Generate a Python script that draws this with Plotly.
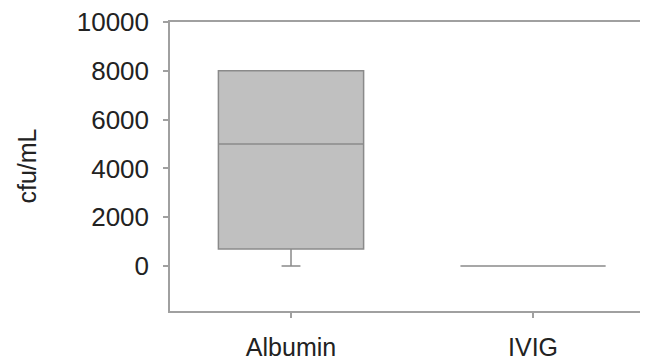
import plotly.graph_objects as go

categories = ["Albumin", "IVIG"]
q1 = [700, 0]
median = [5000, 0]
q3 = [8000, 0]
lowerfence = [0, 0]
upperfence = [8000, 0]
y_ticks = [0, 2000, 4000, 6000, 8000, 10000]
y_ticktext = ["0", "2000", "4000", "6000", "8000", "10000"]

fig = go.Figure()
fig.add_trace(go.Box(
    x=categories, q1=q1, median=median, q3=q3,
    lowerfence=lowerfence, upperfence=upperfence,
    fillcolor="#c0c0c0",
    line=dict(color="#8a8a8a", width=1.5),
    width=0.6, whiskerwidth=0.13,
    boxpoints=False, showlegend=False, hoverinfo="skip",
))

font = dict(family="Liberation Sans, Arial, sans-serif", size=26, color="#222222")
fig.update_layout(
    width=640, height=356,
    margin=dict(l=162, r=0, t=14, b=53),
    plot_bgcolor="white", paper_bgcolor="white",
    font=font,
    xaxis=dict(
        type="category", range=[-0.5, 1.475], automargin=False,
        showline=True, linecolor="#a0a0a0", linewidth=1.5, mirror=True,
        ticks="outside", ticklen=5, tickcolor="#a0a0a0", tickwidth=1.5,
        showgrid=False, zeroline=False, ticklabelstandoff=8,
        ticklabeloverflow="allow", tickfont=dict(size=25),
    ),
    yaxis=dict(
        range=[-1840, 10000.5], tickvals=y_ticks, ticktext=y_ticktext, automargin=False,
        showline=True, linecolor="#a0a0a0", linewidth=1.5,
        ticks="outside", ticklen=5, tickcolor="#a0a0a0", tickwidth=1.5,
        showgrid=False, zeroline=False, ticklabelstandoff=9,
        ticklabeloverflow="allow",
    ),
    annotations=[dict(
        text="cfu/mL", textangle=-90, xref="paper", yref="paper",
        x=0, xshift=-160, y=0.5, showarrow=False,
        font=dict(size=25, color="#222222"),
    )],
)
fig.write_html("out.html")
